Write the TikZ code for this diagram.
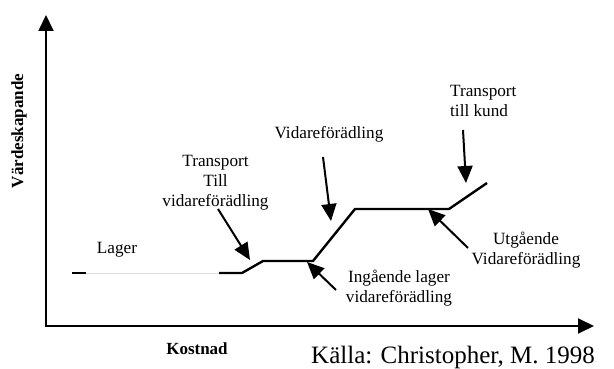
\documentclass[tikz,border=0pt]{standalone}
\usepackage{fontspec}
\setmainfont{Liberation Serif}
\usetikzlibrary{arrows.meta}
\begin{document}
\begin{tikzpicture}[x=1pt,y=-1pt,
  axis/.style={line width=2pt,-{Triangle[length=16pt,width=15pt]}},
  pointer/.style={line width=2pt,-{Triangle[length=17pt,width=15pt]}},
  valueline/.style={line width=2.4pt,line join=miter},
  faint/.style={line width=1pt,draw=black!13},
  lbl/.style={font=\fontsize{17.2}{20}\selectfont,align=center,inner sep=0pt},
  axlbl/.style={font=\fontsize{17}{20}\selectfont\bfseries,inner sep=0pt}]
\useasboundingbox (0,0) rectangle (614,369);

% axes
\coordinate (origin) at (46,326);
\coordinate (ytop) at (46,15);
\coordinate (xend) at (594,326);
\draw[axis] (origin|-0,327) -- (ytop);
\draw[axis] (45,326) -- (xend);

% value line
\coordinate (p0) at (72,273);
\coordinate (p1) at (86,273);
\coordinate (p2) at (219,273);
\coordinate (p3) at (242,273);
\coordinate (p4) at (263,261);
\coordinate (p5) at (313,261);
\coordinate (p6) at (355,209);
\coordinate (p7) at (449,209);
\coordinate (p8) at (487,183);
\draw[valueline] (p0) -- (p1);
\draw[faint] (p1) -- (p2);
\draw[valueline] (p2) -- (p3) -- (p4) -- (p5) -- (p6) -- (p7) -- (p8);

% labels (base = baseline of the last line)
\node[lbl] (lager) at (117,250) {Lager};
\node[lbl,anchor=base] (transp1) at (215.5,206) {Transport\\Till\\vidareförädling};
\node[lbl,anchor=base] (vidare) at (329,139) {Vidareförädling};
\node[lbl,align=left,anchor=base west] (transp2) at (450,117) {Transport\\till kund};
\node[lbl,anchor=base] (utg) at (526,264) {Utgående\\Vidareförädling};
\node[lbl,anchor=base] (ing) at (399,302) {Ingående lager\\vidareförädling};
\node[axlbl,rotate=90] (yl) at (19,131) {Värdeskapande};
\node[axlbl] (xl) at (197,349) {Kostnad};
\node[inner sep=0pt,anchor=base west,font=\fontsize{25}{30}\selectfont] (src) at (311,363) {Källa: Christopher, M. 1998};

% pointers
\coordinate (a1s) at (218,209);
\coordinate (a1e) at (250,260);
\coordinate (a2s) at (323,157);
\coordinate (a2e) at (331,221);
\coordinate (a3s) at (336,290);
\coordinate (a3e) at (307,262);
\coordinate (a4s) at (468,248);
\coordinate (a4e) at (428,209);
\coordinate (a5s) at (463,130);
\coordinate (a5e) at (466,183);
\draw[pointer] (a1s) -- (a1e);
\draw[pointer] (a2s) -- (a2e);
\draw[pointer] (a3s) -- (a3e);
\draw[pointer] (a4s) -- (a4e);
\draw[pointer] (a5s) -- (a5e);
\end{tikzpicture}
\end{document}
